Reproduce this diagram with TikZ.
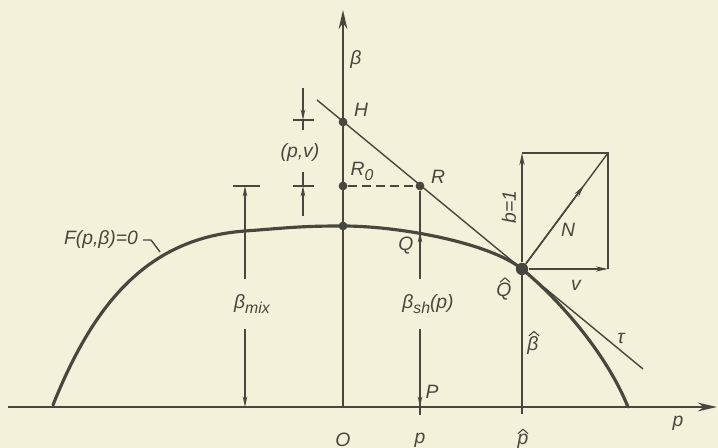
\documentclass[tikz,border=0pt]{standalone}
\usepackage{fontspec}
\setmainfont{Liberation Sans}
\usetikzlibrary{
  arrows.meta,
  calc
}
\definecolor{paper}{HTML}{F3F1DA}
\definecolor{ink}{HTML}{47473D}
\newcommand{\lowsub}[1]{\raisebox{-0.5ex}{\fontsize{9}{10}\selectfont #1}}
\tikzset{
  lbl/.style={
    text=ink,
    font=\fontsize{11}{13}\selectfont\itshape,
    inner sep=1pt,
  },
  guide/.style={
    draw=ink,
    line width=0.8pt,
  },
  curveline/.style={
    draw=ink,
    line width=1.8pt,
    line cap=round,
  },
  axis/.style={
    draw=ink,
    line width=0.9pt,
    -{Stealth[length=11pt, width=5pt]},
  },
  dimarrow/.style={
    guide,
    {Stealth[length=6pt, width=2.6pt]}-{Stealth[length=6pt, width=2.6pt]},
  },
  onearrow/.style={
    guide,
    -{Stealth[length=6pt, width=2.6pt]},
  },
  vecarrow/.style={
    draw=ink,
    line width=0.9pt,
    -{Stealth[length=7pt, width=3pt]},
  },
  dot/.style={
    circle,
    fill=ink,
    inner sep=0pt,
    minimum size=5pt,
  },
  gaplbl/.style={
    lbl,
    fill=paper,
    inner xsep=2pt,
    inner ysep=9pt,
  },
  hatmark/.pic={
    \draw[ink, line width=0.6pt, line join=round] (-5,3) -- (0,-1.5) -- (5,3);
  },
}

\begin{document}
\begin{tikzpicture}[x=0.02cm, y=-0.02cm]

\useasboundingbox[fill=paper] (0,0) rectangle (718,448);

% === Axes ===

\coordinate (west) at (8,407);
\coordinate (east) at (717,407);
\coordinate (origin) at (343,407);
\coordinate (north) at (343,10);

\draw[axis] (west) -- (east);
\draw[axis] (origin) -- (north);

\node[lbl] (blabel) at (356,60) {β};
\node[lbl] (plabel) at (678,423) {p};
\node[lbl] (Olabel) at (343,440) {O};

% === Curve F(p,beta)=0 ===

\draw[curveline] (53,405)
  .. controls (95,300) and (150,238) .. (245,231)
  .. controls (290,227.7) and (300,226) .. (343,226)
  .. controls (400,226) and (490,243) .. (522,269)
  .. controls (555,296) and (605,350) .. (628,407);

\node[lbl, anchor=east] (Flabel) at (140,240) {F(p,β)=0};
\coordinate (Fknee) at (151,240);
\coordinate (Fhit) at (160,252);
\draw[guide] (Flabel.east) ++(3,0) -- (Fknee) -- (Fhit);

% === Tangent tau through H, R, Q-hat ===

\coordinate (tauS) at (317,100);
\coordinate (tauE) at (643,369);
\draw[guide] (tauS) -- (tauE);

\node[dot] (H) at (343,122) {};
\node[dot] (R0) at (343,186) {};
\node[dot] (top) at (343,226) {};
\node[dot] (R) at (420,186) {};
\node[dot, minimum size=7pt] (Qhat) at (522,269) {};

\draw[guide, dashed, dash pattern=on 5pt off 3pt] (R0) -- (R);

\node[lbl] (Hlabel) at (361,110) {H};
\node[lbl] (R0label) at (362,171) {R\lowsub{0}};
\node[lbl] (Rlabel) at (438,177) {R};
\node[lbl] (taulabel) at (621,338) {τ};

% === (p,v) marks ===

\coordinate (pvtop) at (303,120);
\coordinate (pvbot) at (303,186);
\draw[guide] ($(pvtop)+(-10,0)$) -- ($(pvtop)+(11,0)$);
\draw[guide] ($(pvbot)+(-10,0)$) -- ($(pvbot)+(11,0)$);
\draw[onearrow] ($(pvtop)+(0,-32)$) -- (pvtop);
\draw[guide] (pvtop) -- ++(0,10);
\draw[onearrow] ($(pvbot)+(0,30)$) -- (pvbot);
\draw[guide] (pvbot) -- ++(0,-14);
\node[lbl] (pvlabel) at (300,153) {(p,v)};

% === beta_mix ===

\coordinate (mixtop) at (245,186);
\coordinate (mixbot) at (245,407);
\draw[guide] ($(mixtop)+(-12,0)$) -- ($(mixtop)+(15,0)$);
\draw[dimarrow] (mixtop) -- (mixbot);
\node[gaplbl] (mixlabel) at (252,304) {β\lowsub{mix}};

% === beta_sh(p) ===

\coordinate (Q) at (420,232);
\coordinate (P) at (420,407);
\coordinate (ptick) at (420,415);
\draw[guide] (R) -- (ptick);
\draw[dimarrow] (Q) -- (P);
\node[gaplbl] (shlabel) at (428,304) {β\lowsub{sh}(p)};
\node[lbl] (Qlabel) at (406,246) {Q};
\node[lbl] (Plabel) at (432,392) {P};
\node[lbl] (pslabel) at (420,440) {p};

% === Q-hat and normal box ===

\coordinate (phat) at (522,414);
\coordinate (boxtl) at (522,153);
\coordinate (boxtr) at (608,153);
\coordinate (boxbr) at (608,269);

\draw[guide] (Qhat) -- (phat);
\draw[guide] (boxtl) -- (boxtr) -- (boxbr);
\draw[vecarrow] (Qhat) -- (boxtl);
\draw[vecarrow] (Qhat) -- (boxbr);
\draw[guide] (Qhat) -- (boxtr);
\draw[vecarrow] (Qhat) -- ($(Qhat)!0.72!(boxtr)$);

\node[lbl, rotate=90] (blabel1) at (509,207) {b=1};
\node[lbl] (Nlabel) at (568,230) {N};
\node[lbl] (vlabel) at (576,285) {v};
\node[lbl] (Qhatlabel) at (504,292) {Q};
\node[lbl] (bhatlabel) at (533,346) {β};
\node[lbl] (phatlabel) at (523,441) {p};
\pic at ($(Qhatlabel.north)+(1,-2)$) {hatmark};
\pic at ($(bhatlabel.north)+(1,-2)$) {hatmark};
\pic at ($(phatlabel.north)+(0,-1)$) {hatmark};

\end{tikzpicture}
\end{document}
